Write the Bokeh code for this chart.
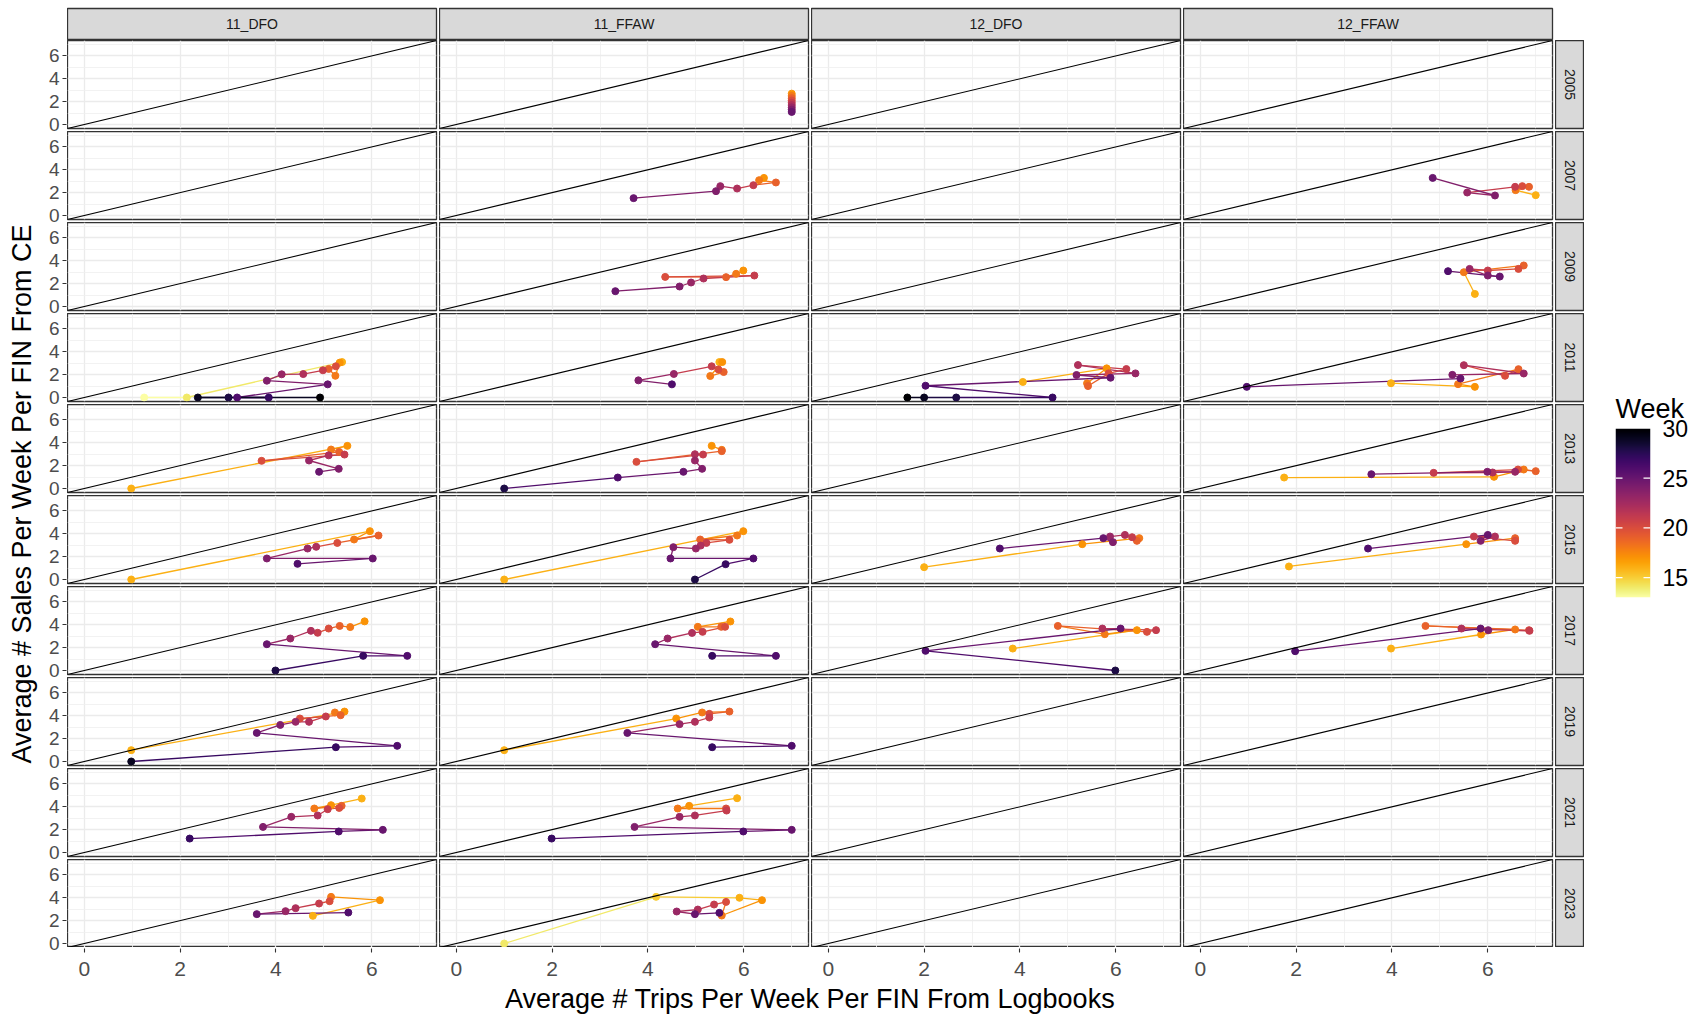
import math

import numpy as np
from bokeh.core.properties import value
from bokeh.embed import file_html
from bokeh.layouts import column, row
from bokeh.models import (ColumnDataSource, FixedTicker, GridBox,
                          LinearColorMapper, Range1d, Slope)
from bokeh.palettes import Inferno256
from bokeh.plotting import figure
from bokeh.resources import INLINE

# ---------------------------------------------------------------- data
AREAS = ["11_DFO", "11_FFAW", "12_DFO", "12_FFAW"]
YEARS = [2005, 2007, 2009, 2011, 2013, 2015, 2017, 2019, 2021, 2023]
AXIS_TICKS = [0, 2, 4, 6]
MINOR_TICKS = [1, 3, 5, 7]
WEEK_TICKS = [15, 20, 25, 30]
WEEK_LOW, WEEK_HIGH = 13, 30

# (week, avg trips per week per FIN from logbooks, avg sales per week per FIN from CE)
dfo11_2011 = [(13, 1.25, 0.0), (14, 2.14, 0.0), (16, 5.38, 3.1), (17, 5.33, 3.05),
              (18, 5.24, 1.9), (19, 5.1, 2.5), (20, 5.25, 2.73), (21, 4.98, 2.38),
              (22, 4.57, 2.05), (23, 4.12, 2.03), (24, 3.81, 1.47), (25, 5.08, 1.15),
              (26, 3.19, 0.0), (27, 3.85, 0.0), (28, 3.01, 0.0), (29, 2.37, 0.0),
              (30, 4.92, 0.0)]
dfo11_2013 = [(16, 0.98, 0.0), (17, 5.49, 3.73), (18, 5.15, 3.41), (19, 5.32, 3.2),
              (20, 3.70, 2.42), (21, 5.43, 2.97), (22, 5.1, 2.9), (23, 4.69, 2.45),
              (24, 5.31, 1.72), (25, 4.9, 1.46)]
dfo11_2015 = [(16, 0.98, 0.0), (17, 5.96, 4.23), (18, 5.63, 3.5), (19, 6.14, 3.85),
              (20, 5.28, 3.2), (22, 4.84, 2.86), (23, 4.66, 2.71), (24, 3.81, 1.84),
              (25, 6.02, 1.84), (26, 4.45, 1.37)]
dfo11_2017 = [(17, 5.85, 4.3), (18, 5.55, 3.8), (19, 5.33, 3.9), (20, 5.1, 3.67),
              (21, 4.87, 3.3), (22, 4.73, 3.47), (23, 4.3, 2.8), (25, 3.81, 2.3),
              (26, 6.74, 1.28), (27, 5.82, 1.28), (28, 3.99, 0.0)]
dfo11_2019 = [(16, 0.98, 0.99), (17, 5.43, 4.37), (18, 5.23, 4.29), (19, 5.35, 4.05),
              (20, 4.5, 3.76), (21, 5.04, 3.94), (22, 4.69, 3.47), (23, 4.41, 3.47),
              (24, 4.09, 3.2), (25, 3.6, 2.5), (26, 6.53, 1.37), (27, 5.25, 1.25),
              (29, 0.98, 0.0)]
dfo11_2021 = [(16, 5.79, 4.72), (17, 5.15, 4.14), (18, 4.8, 3.85), (19, 5.37, 4.08),
              (20, 5.32, 3.9), (21, 5.08, 3.79), (22, 4.87, 3.24), (23, 4.32, 3.12),
              (24, 3.73, 2.24), (25, 6.23, 1.98), (26, 5.31, 1.84), (27, 2.2, 1.22)]
dfo11_2023 = [(16, 4.77, 2.42), (17, 6.17, 3.79), (18, 5.15, 4.08), (20, 5.12, 3.7),
              (21, 4.9, 3.5), (22, 4.41, 3.09), (23, 4.2, 2.83), (25, 3.6, 2.57),
              (26, 5.51, 2.71)]

ffaw11_2005 = [(17, 7.0, 2.7), (18, 7.0, 2.5), (19, 7.0, 2.3), (20, 7.0, 2.1),
               (21, 7.0, 1.9), (22, 7.0, 1.7), (23, 7.0, 1.5), (24, 7.0, 1.3),
               (25, 7.0, 1.1)]
ffaw11_2007 = [(17, 6.42, 3.29), (18, 6.32, 3.09), (19, 6.67, 2.89), (21, 6.2, 2.65),
               (22, 5.86, 2.36), (23, 5.51, 2.57), (24, 5.42, 2.13), (25, 3.7, 1.52)]
ffaw11_2009 = [(17, 5.99, 3.15), (18, 5.84, 2.86), (19, 5.63, 2.57), (20, 4.36, 2.59),
               (21, 6.22, 2.71), (22, 5.16, 2.45), (23, 4.9, 2.1), (24, 4.66, 1.75),
               (25, 3.32, 1.34)]
ffaw11_2011 = [(16, 5.49, 3.1), (17, 5.55, 3.1), (18, 5.3, 1.88), (19, 5.58, 2.23),
               (20, 5.47, 2.46), (21, 5.33, 2.73), (23, 4.54, 2.06), (24, 3.8, 1.5),
               (26, 4.5, 1.15)]
ffaw11_2013 = [(17, 5.33, 3.73), (18, 5.54, 3.38), (19, 5.54, 3.27), (20, 3.76, 2.33),
               (21, 5.15, 2.97), (22, 4.98, 3.0), (23, 4.98, 2.45), (24, 5.13, 1.72),
               (25, 4.74, 1.46), (26, 3.37, 0.96), (28, 1.0, 0.0)]
ffaw11_2015 = [(16, 1.0, 0.0), (17, 5.99, 4.23), (18, 5.86, 3.85), (19, 5.09, 3.5),
               (20, 5.7, 3.47), (21, 5.22, 3.2), (22, 5.1, 2.97), (23, 5.0, 2.71),
               (24, 4.53, 2.83), (25, 4.47, 1.84), (26, 6.2, 1.84), (27, 5.62, 1.34),
               (28, 4.98, 0.0)]
ffaw11_2017 = [(17, 5.72, 4.29), (18, 5.04, 3.82), (19, 5.53, 3.82), (20, 5.61, 3.82),
               (21, 5.14, 3.38), (22, 4.92, 3.29), (23, 4.41, 2.8), (25, 4.15, 2.3),
               (26, 6.67, 1.28), (27, 5.34, 1.28)]
ffaw11_2019 = [(16, 1.0, 0.99), (17, 4.59, 3.76), (18, 5.13, 4.29), (19, 5.7, 4.37),
               (20, 5.28, 4.17), (21, 5.28, 3.85), (22, 4.98, 3.47), (23, 4.66, 3.27),
               (25, 3.57, 2.5), (26, 7.0, 1.37), (27, 5.34, 1.25)]
ffaw11_2021 = [(16, 5.86, 4.75), (17, 4.86, 4.08), (18, 4.62, 3.85), (20, 5.63, 3.85),
               (21, 5.64, 3.67), (22, 4.98, 3.24), (23, 4.66, 3.12), (24, 3.72, 2.24),
               (25, 7.0, 1.98), (26, 5.99, 1.84), (27, 1.99, 1.22)]
ffaw11_2023 = [(14, 1.0, 0.0), (15, 4.17, 4.08), (16, 5.91, 4.0), (17, 6.38, 3.79),
               (18, 5.54, 2.45), (20, 5.63, 3.64), (21, 5.38, 3.41), (22, 5.04, 2.97),
               (23, 4.6, 2.8), (25, 4.98, 2.57), (26, 5.49, 2.68)]

dfo12_2011 = [(16, 4.06, 1.36), (17, 5.81, 2.55), (18, 5.4, 1.24), (19, 5.42, 1.0),
              (20, 5.85, 2.11), (21, 6.22, 2.49), (22, 5.21, 2.84), (23, 6.41, 2.11),
              (24, 5.18, 1.97), (25, 5.89, 1.73), (26, 2.03, 1.03), (27, 4.68, 0.0),
              (28, 2.67, 0.0), (29, 2.0, 0.0), (30, 1.65, 0.0)]
dfo12_2015 = [(16, 2.0, 1.08), (17, 5.3, 3.09), (18, 6.49, 3.62), (19, 6.44, 3.38),
              (21, 6.34, 3.7), (22, 6.19, 3.9), (23, 5.88, 3.76), (24, 5.94, 3.27),
              (25, 5.74, 3.62), (26, 3.58, 2.71)]
dfo12_2017 = [(16, 3.85, 1.92), (17, 6.44, 3.53), (18, 5.77, 3.18), (19, 4.79, 3.9),
              (20, 6.65, 3.38), (21, 6.84, 3.53), (22, 5.72, 3.67), (25, 6.1, 3.67),
              (26, 2.03, 1.72), (28, 5.99, 0.0)]

ffaw12_2007 = [(16, 7.0, 1.78), (18, 6.58, 2.22), (19, 6.86, 2.51), (20, 6.72, 2.57),
               (21, 6.57, 2.51), (23, 5.57, 2.01), (24, 6.15, 1.75), (25, 4.85, 3.29)]
ffaw12_2009 = [(16, 5.73, 1.1), (18, 5.5, 3.0), (19, 6.75, 3.59), (20, 6.64, 3.29),
               (21, 6.0, 3.15), (23, 5.62, 3.29), (24, 6.0, 2.71), (25, 6.25, 2.62),
               (26, 5.17, 3.09)]
ffaw12_2011 = [(16, 3.98, 1.25), (17, 5.73, 0.93), (18, 5.38, 1.17), (19, 6.64, 2.48),
               (20, 6.36, 1.9), (22, 5.5, 2.83), (23, 6.75, 2.1), (24, 5.26, 1.98),
               (25, 5.43, 1.66), (26, 0.97, 0.93)]
ffaw12_2013 = [(16, 1.75, 0.96), (17, 6.13, 1.02), (18, 6.75, 1.66), (19, 7.0, 1.52),
               (20, 6.63, 1.66), (21, 4.87, 1.37), (22, 6.1, 1.4), (23, 6.57, 1.46),
               (24, 5.99, 1.46), (25, 3.57, 1.25)]
ffaw12_2015 = [(16, 1.85, 1.14), (17, 5.55, 3.09), (19, 6.57, 3.62), (20, 6.57, 3.38),
               (21, 5.71, 3.76), (22, 6.15, 3.76), (24, 5.85, 3.38), (25, 6.0, 3.9),
               (26, 3.5, 2.71)]
ffaw12_2017 = [(16, 3.98, 1.92), (17, 5.86, 3.15), (18, 6.57, 3.59), (19, 4.7, 3.9),
               (20, 6.86, 3.53), (21, 6.87, 3.47), (22, 5.45, 3.67), (24, 6.01, 3.53),
               (25, 5.85, 3.67), (26, 1.98, 1.69)]

SERIES = {
    ("11_DFO", 2011): dfo11_2011, ("11_DFO", 2013): dfo11_2013,
    ("11_DFO", 2015): dfo11_2015, ("11_DFO", 2017): dfo11_2017,
    ("11_DFO", 2019): dfo11_2019, ("11_DFO", 2021): dfo11_2021,
    ("11_DFO", 2023): dfo11_2023,
    ("11_FFAW", 2005): ffaw11_2005, ("11_FFAW", 2007): ffaw11_2007,
    ("11_FFAW", 2009): ffaw11_2009, ("11_FFAW", 2011): ffaw11_2011,
    ("11_FFAW", 2013): ffaw11_2013, ("11_FFAW", 2015): ffaw11_2015,
    ("11_FFAW", 2017): ffaw11_2017, ("11_FFAW", 2019): ffaw11_2019,
    ("11_FFAW", 2021): ffaw11_2021, ("11_FFAW", 2023): ffaw11_2023,
    ("12_DFO", 2011): dfo12_2011, ("12_DFO", 2015): dfo12_2015,
    ("12_DFO", 2017): dfo12_2017,
    ("12_FFAW", 2007): ffaw12_2007, ("12_FFAW", 2009): ffaw12_2009,
    ("12_FFAW", 2011): ffaw12_2011, ("12_FFAW", 2013): ffaw12_2013,
    ("12_FFAW", 2015): ffaw12_2015, ("12_FFAW", 2017): ffaw12_2017,
}

X_TITLE = "Average # Trips Per Week Per FIN From Logbooks"
Y_TITLE = "Average # Sales Per Week Per FIN From CE"
LEGEND_TITLE = "Week"

# ---------------------------------------------------------------- styling
FONT = "Liberation Sans"
PW, PH = 369, 88          # panel frame size
GAP = 3                   # space between panels
STRIP_TOP_H = 31
STRIP_RIGHT_W = 29
YAXIS_W = 67              # y title + shared y tick labels
LEGEND_W = 117
TOTAL_H = 1016
DATA_RANGE = (-0.35, 7.35)

mapper = LinearColorMapper(palette=list(reversed(Inferno256)), low=WEEK_LOW, high=WEEK_HIGH)


def style_axis(ax, size):
    ax.axis_line_color = None
    ax.major_tick_line_color = "#333333"
    ax.major_tick_line_width = 1.1
    ax.major_tick_in = 0
    ax.major_tick_out = 4
    ax.minor_tick_line_color = None
    ax.major_label_text_font = FONT
    ax.major_label_text_font_size = size
    ax.major_label_text_color = "#4D4D4D"
    ax.axis_label_text_font = FONT
    ax.axis_label_text_font_size = "27px"
    ax.axis_label_text_font_style = "normal"
    ax.axis_label_text_color = "black"


def make_panel(area, year, ri):
    last_row = ri == len(YEARS) - 1
    p = figure(frame_width=PW, frame_height=PH, title=None,
               x_range=Range1d(*DATA_RANGE), y_range=Range1d(*DATA_RANGE),
               x_axis_location=None, y_axis_location=None,
               min_border_left=0, min_border_right=GAP, min_border_top=0,
               min_border_bottom=0 if last_row else GAP,
               toolbar_location=None, output_backend="svg")
    p.background_fill_color = "white"
    p.border_fill_color = "white"
    p.outline_line_color = "#333333"
    p.outline_line_width = 1.3

    for g in (p.xgrid, p.ygrid):
        g.ticker = FixedTicker(ticks=AXIS_TICKS, minor_ticks=MINOR_TICKS)
        g.grid_line_color = "#EBEBEB"
        g.grid_line_width = 1.3
        g.minor_grid_line_color = "#EFEFEF"
        g.minor_grid_line_width = 0.8

    p.add_layout(Slope(gradient=1, y_intercept=0, line_color="black", line_width=1.1))

    rows = SERIES.get((area, year))
    if rows:
        weeks = [r[0] for r in rows]
        xs = [r[1] for r in rows]
        ys = [r[2] for r in rows]
        seg = ColumnDataSource(dict(x0=xs[:-1], y0=ys[:-1], x1=xs[1:], y1=ys[1:],
                                    week=weeks[:-1]))
        p.segment("x0", "y0", "x1", "y1", source=seg, line_width=1.3,
                  line_color={"field": "week", "transform": mapper})
        pts = ColumnDataSource(dict(x=xs, y=ys, week=weeks))
        p.scatter("x", "y", source=pts, size=7,
                  fill_color={"field": "week", "transform": mapper},
                  line_color={"field": "week", "transform": mapper})
    return p


def make_strip(label, ri, top):
    """Grey facet label box; top strips name the area, right strips the year."""
    last_row = ri == len(YEARS) - 1
    if top:
        size = dict(frame_width=PW, frame_height=STRIP_TOP_H,
                    min_border_left=0, min_border_right=GAP,
                    min_border_top=8, min_border_bottom=1)
    else:
        size = dict(frame_width=STRIP_RIGHT_W, frame_height=PH,
                    min_border_left=0, min_border_right=0, min_border_top=0,
                    min_border_bottom=0 if last_row else GAP)
    p = figure(title=None, x_range=Range1d(0, 1), y_range=Range1d(0, 1),
               x_axis_location=None, y_axis_location=None,
               toolbar_location=None, output_backend="svg", **size)
    p.grid.visible = False
    p.background_fill_color = "#D9D9D9"
    p.border_fill_color = "white"
    p.outline_line_color = "#333333"
    p.outline_line_width = 1.3
    p.text(x=[0.5], y=[0.5], text=[label], angle=0 if top else -math.pi / 2,
           text_align="center", text_baseline="middle",
           text_font=value(FONT), text_font_size="14px", text_color="#1A1A1A")
    return p


# ---------------------------------------------------------------- facet grid
cells = []
for ci, area in enumerate(AREAS):
    cells.append((make_strip(area, -1, True), 0, ci))
for ri, year in enumerate(YEARS):
    for ci, area in enumerate(AREAS):
        cells.append((make_panel(area, year, ri), ri + 1, ci))
    cells.append((make_strip(str(year), ri, False), ri + 1, len(AREAS)))

grid = GridBox(children=cells, spacing=0)

panels_top = 8 + STRIP_TOP_H + 1
panels_h = len(YEARS) * (PH + GAP) - GAP
panels_w = len(AREAS) * PW + (len(AREAS) - 1) * GAP
span = DATA_RANGE[1] - DATA_RANGE[0]

# shared x axis: one axis running under all panel columns, measured in pixels
# from the left edge of the first panel; each column repeats the 0..6 ticks of
# its own panel scale, and the axis label is the common x title
xtick_pos, xtick_text = [], {}
for ci in range(len(AREAS)):
    for v in AXIS_TICKS:
        pos = round(ci * (PW + GAP) + (v - DATA_RANGE[0]) * PW / span, 3)
        xtick_pos.append(pos)
        xtick_text[pos] = str(v)

xa = figure(frame_width=panels_w, frame_height=1, title=None,
            x_range=Range1d(0, panels_w), y_range=Range1d(0, 1),
            x_axis_location="below", y_axis_location=None,
            min_border_left=0, min_border_right=GAP + STRIP_RIGHT_W,
            min_border_top=0, min_border_bottom=0,
            frame_align=False, toolbar_location=None, output_backend="svg")
xa.grid.visible = False
xa.outline_line_color = None
xa.xaxis.ticker = FixedTicker(ticks=xtick_pos)
xa.xaxis.major_label_overrides = xtick_text
style_axis(xa.xaxis, "21px")
xa.xaxis.major_label_standoff = 9
xa.xaxis.axis_label = X_TITLE
xa.xaxis.axis_label_standoff = 5

# shared y axis down the panel rows, measured in pixels from the top panel
ytick_pos, ytick_text = [], {}
for ri in range(len(YEARS)):
    for v in AXIS_TICKS:
        pos = round(ri * (PH + GAP) + (DATA_RANGE[1] - v) * PH / span, 3)
        ytick_pos.append(pos)
        ytick_text[pos] = str(v)

ya = figure(width=YAXIS_W, height=TOTAL_H, title=None,
            x_range=Range1d(0, 1), y_range=Range1d(panels_h, 0),
            x_axis_location=None, y_axis_location="left",
            min_border_left=YAXIS_W - 1, min_border_right=0,
            min_border_top=panels_top, min_border_bottom=TOTAL_H - panels_top - panels_h,
            frame_align=False, toolbar_location=None, output_backend="svg")
ya.grid.visible = False
ya.outline_line_color = None
ya.yaxis.ticker = FixedTicker(ticks=ytick_pos)
ya.yaxis.major_label_overrides = ytick_text
style_axis(ya.yaxis, "19px")
ya.yaxis.major_label_standoff = 3
ya.yaxis.axis_label = Y_TITLE
ya.yaxis.axis_label_standoff = 9

# colour legend for week: a gradient bar on a week-scaled axis
BAR_W, BAR_H = 35, 169
BAR_LEFT, BAR_TOP = 31, 428
lg = figure(frame_width=BAR_W, frame_height=BAR_H, title=LEGEND_TITLE,
            x_range=Range1d(0, 1), y_range=Range1d(WEEK_LOW, WEEK_HIGH),
            x_axis_location=None, y_axis_location="right",
            min_border_left=BAR_LEFT, min_border_right=LEGEND_W - BAR_LEFT - BAR_W,
            min_border_top=BAR_TOP, min_border_bottom=TOTAL_H - BAR_TOP - BAR_H,
            frame_align=False, toolbar_location=None, output_backend="svg")
lg.grid.visible = False
lg.outline_line_color = None
lg.border_fill_color = "white"
lg.title.text_font = FONT
lg.title.text_font_size = "27px"
lg.title.text_font_style = "normal"
lg.title.text_color = "black"
lg.title.align = "left"
lg.title.standoff = 10
gradient = np.linspace(WEEK_LOW, WEEK_HIGH, 256).reshape(256, 1)
lg.image(image=[gradient], x=0, y=WEEK_LOW, dw=1, dh=WEEK_HIGH - WEEK_LOW,
         color_mapper=mapper)
inner = [t for t in WEEK_TICKS if t < WEEK_HIGH]
lg.segment(x0=[0.0] * len(inner), x1=[0.2] * len(inner), y0=inner, y1=inner,
           line_color="white", line_width=1.3)
lg.segment(x0=[0.8] * len(inner), x1=[1.0] * len(inner), y0=inner, y1=inner,
           line_color="white", line_width=1.3)
lg.yaxis.ticker = FixedTicker(ticks=WEEK_TICKS)
lg.yaxis.axis_line_color = None
lg.yaxis.major_tick_line_color = None
lg.yaxis.minor_tick_line_color = None
lg.yaxis.major_tick_in = 0
lg.yaxis.major_tick_out = 0
lg.yaxis.major_label_standoff = 12
lg.yaxis.major_label_text_font = FONT
lg.yaxis.major_label_text_font_size = "23px"
lg.yaxis.major_label_text_color = "black"

layout = row(ya, column(grid, xa), lg)

with open("out.html", "w") as f:
    f.write(file_html(layout, INLINE))
